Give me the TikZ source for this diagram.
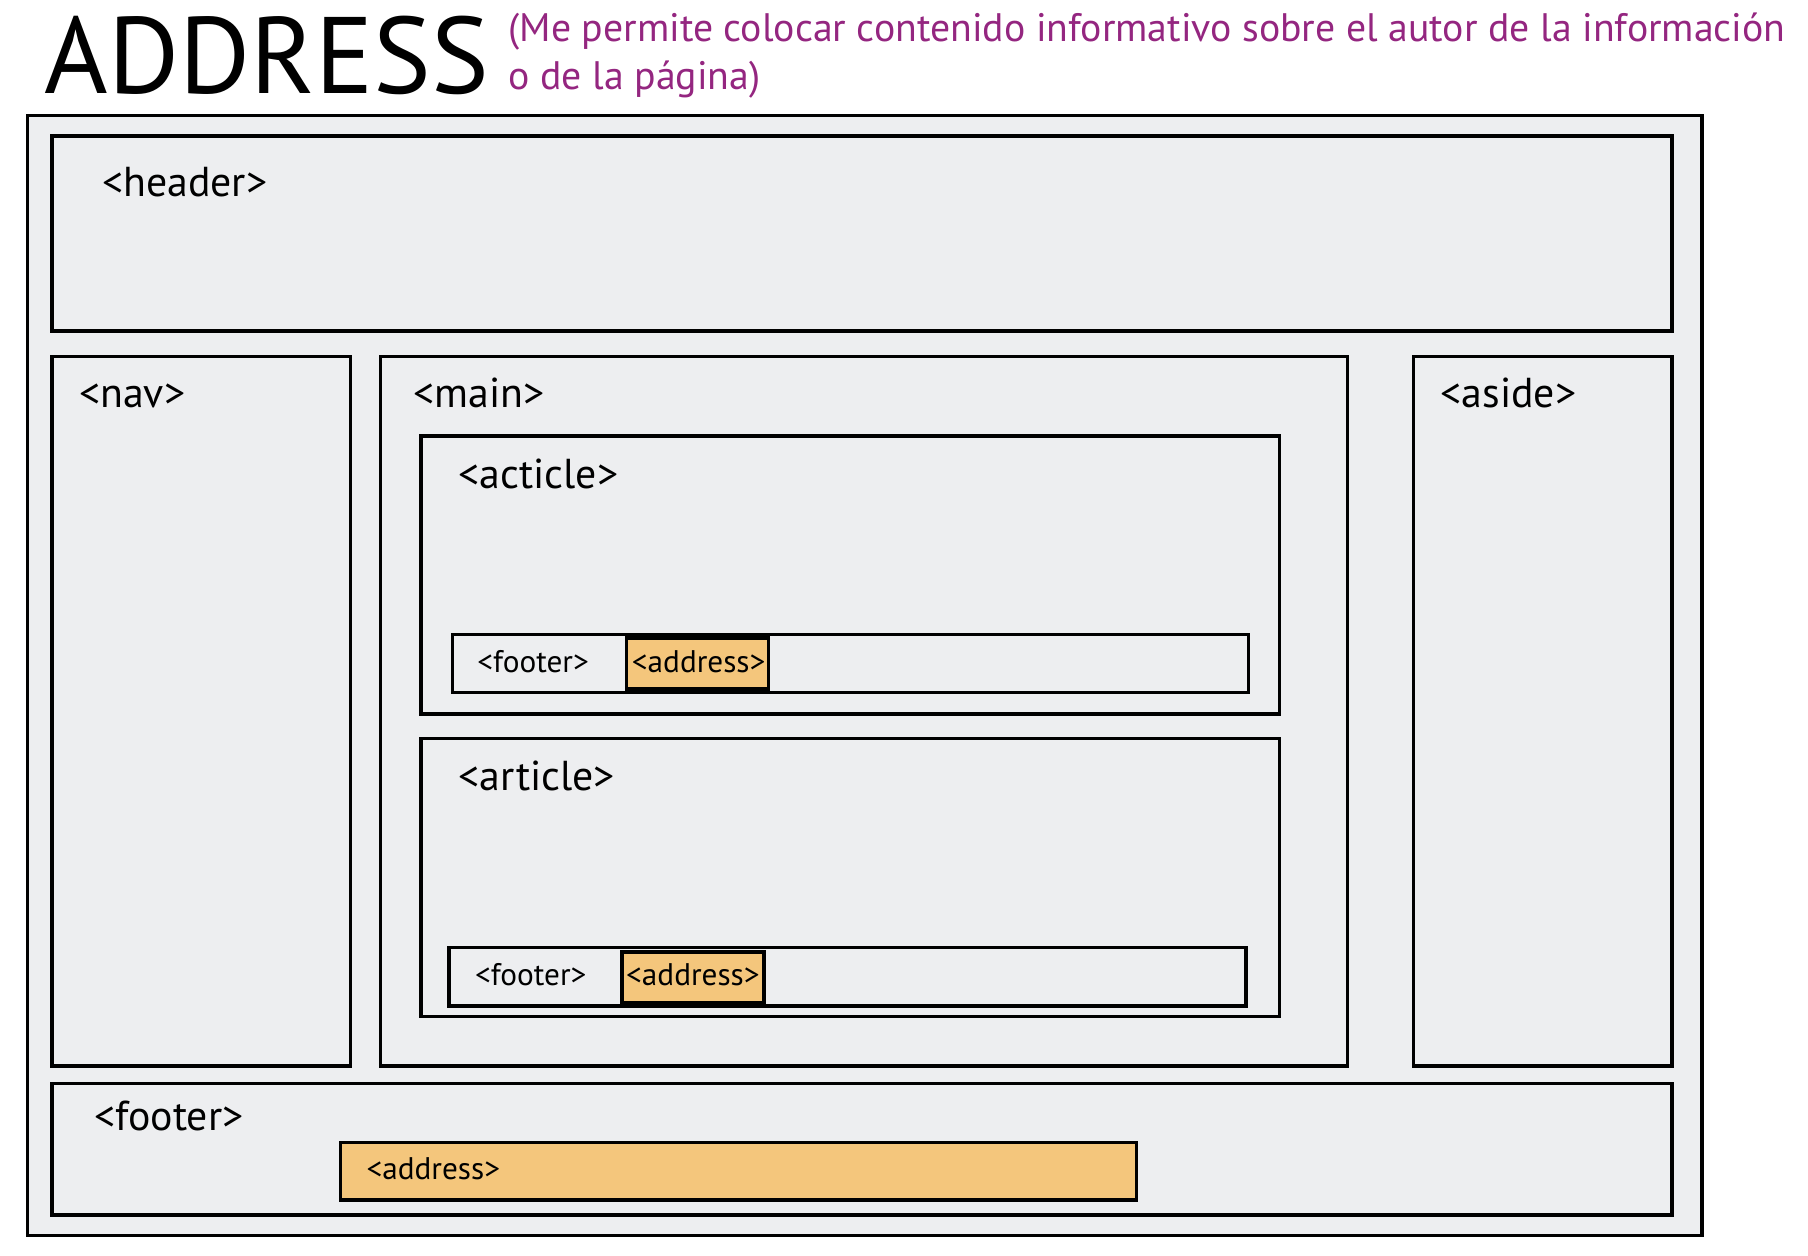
\documentclass[tikz,border=0pt]{standalone}
\usepackage{fontspec}
\setmainfont{PT Sans}
\definecolor{pagegray}{RGB}{237,238,240}
\definecolor{addrorange}{RGB}{244,198,124}
\definecolor{notepurple}{RGB}{148,38,128}
\begin{document}
\begin{tikzpicture}[x=0.01cm,y=-0.01cm,
  box/.style={draw=black, line width=0.85pt, fill=pagegray},
  addr box/.style={draw=black, line width=0.85pt, fill=addrorange},
  tag node/.style={anchor=base west, inner sep=0pt, font=\fontsize{10.3}{12}\selectfont},
  small tag/.style={anchor=base west, inner sep=0pt, font=\fontsize{7.7}{9}\selectfont}]%
\path[use as bounding box] (0,0) rectangle (1567,1088);%
  % title%
\node[anchor=base west, inner sep=0pt, font=\fontsize{26.8}{30}\selectfont] (title) at (38,81) {ADDRESS};%
\node[anchor=base west, inner sep=0pt, align=left, text=notepurple, font=\fontsize{9.8}{11.8}\selectfont] (note) at (440,77.5) {(Me permite colocar contenido informativo sobre el autor de la información\\o de la página)};%
  % page frame%
\path[box] (24,100) rectangle (1475,1071);%
  % header%
\path[box] (45,118) rectangle (1449,287);%
\node[tag node] (headertag) at (88,170) {<header>};%
  % nav, main, aside%
\path[box] (45,309) rectangle (304,924);%
\node[tag node] (navtag) at (68,353) {<nav>};%
\path[box] (330,309) rectangle (1168,924);%
\node[tag node] (maintag) at (358,353) {<main>};%
\path[box] (1225,309) rectangle (1449,924);%
\node[tag node] (asidetag) at (1248,353) {<aside>};%
  % first article%
\path[box] (365,378) rectangle (1109,619);%
\node[tag node] (acticletag) at (397,423) {<acticle>};%
\path[box] (392,550) rectangle (1082,600);%
\node[small tag] (foottagA) at (413,582.5) {<footer>};%
\path[addr box] (543,553) rectangle (666,597);%
\node[small tag] (addrtagA) at (547,582.5) {<address>};%
  % second article%
\path[box] (365,640) rectangle (1109,881);%
\node[tag node] (articletag) at (397,685) {<article>};%
\path[box] (389,821) rectangle (1080,872);%
\node[small tag] (foottagB) at (411,854) {<footer>};%
\path[addr box] (539,825) rectangle (662,869);%
\node[small tag] (addrtagB) at (542,854) {<address>};%
  % page footer%
\path[box] (45,939) rectangle (1449,1053);%
\node[tag node] (foottag) at (81,980) {<footer>};%
\path[addr box] (295,990) rectangle (985,1040);%
\node[small tag] (addrtagC) at (317,1022) {<address>};%
\end{tikzpicture}
\end{document}
